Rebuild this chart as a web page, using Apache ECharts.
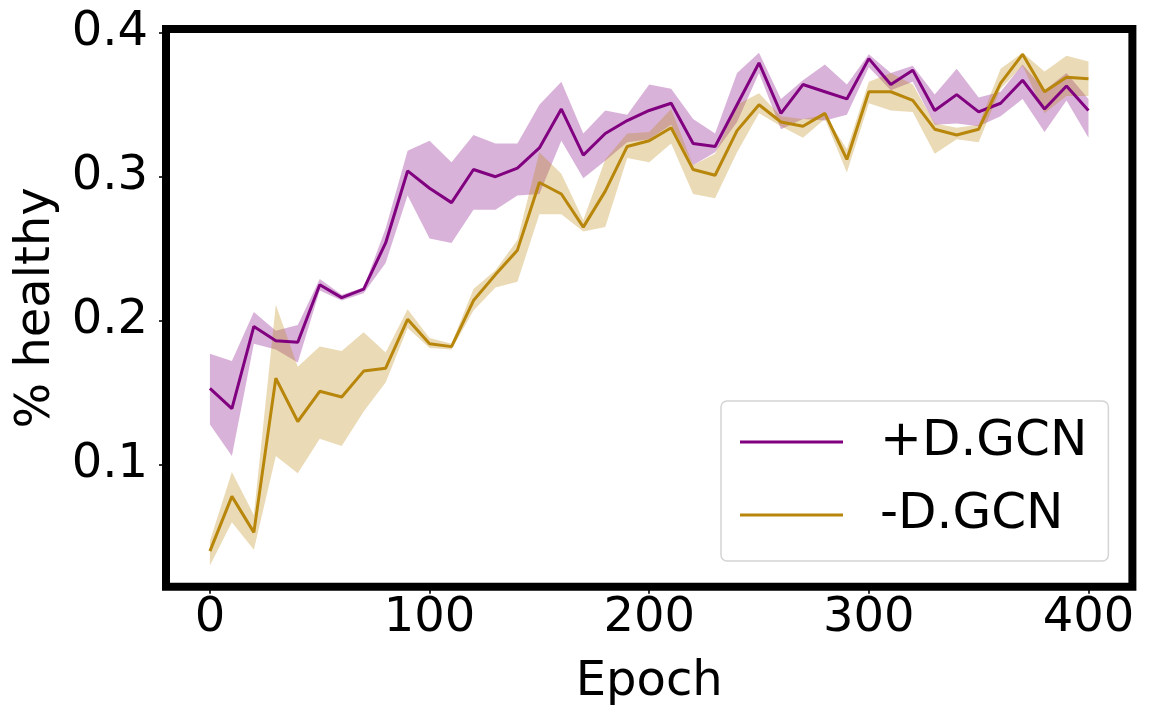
<!DOCTYPE html>
<html>
<head>
<meta charset="utf-8">
<script src="https://cdn.jsdelivr.net/npm/echarts@6/dist/echarts.min.js"></script>
<style>
html,body{margin:0;padding:0;background:#fff;}
#chart{width:1151px;height:721px;}
</style>
</head>
<body>
<div id="chart"></div>
<script>
const epochs = [0,10,20,30,40,50,60,70,80,90,100,110,120,130,140,150,160,170,180,190,200,210,220,230,240,250,260,270,280,290,300,310,320,330,340,350,360,370,380,390,400];
const xTicks = [0,100,200,300,400];
const yTicks = [0.1,0.2,0.3,0.4];

const plusMean  = [0.153,0.139,0.196,0.186,0.185,0.225,0.216,0.222,0.254,0.304,0.292,0.282,0.305,0.300,0.306,0.320,0.347,0.315,0.330,0.339,0.346,0.351,0.323,0.321,0.350,0.379,0.344,0.364,0.359,0.354,0.382,0.364,0.374,0.346,0.357,0.345,0.351,0.367,0.347,0.363,0.346];
const plusUpper = [0.177,0.172,0.206,0.193,0.197,0.229,0.218,0.223,0.264,0.318,0.325,0.310,0.329,0.323,0.323,0.350,0.366,0.330,0.346,0.343,0.364,0.361,0.340,0.330,0.372,0.386,0.354,0.367,0.378,0.364,0.385,0.372,0.377,0.357,0.375,0.355,0.359,0.378,0.360,0.372,0.354];
const plusLower = [0.128,0.106,0.184,0.180,0.171,0.221,0.214,0.219,0.240,0.287,0.257,0.254,0.277,0.277,0.287,0.288,0.325,0.299,0.311,0.324,0.326,0.336,0.308,0.317,0.338,0.372,0.333,0.340,0.339,0.343,0.376,0.360,0.366,0.336,0.337,0.335,0.342,0.354,0.331,0.353,0.327];

const minusMean  = [0.040,0.078,0.053,0.160,0.130,0.151,0.147,0.165,0.167,0.201,0.184,0.182,0.214,0.232,0.249,0.296,0.288,0.265,0.290,0.321,0.325,0.334,0.305,0.301,0.332,0.350,0.338,0.335,0.344,0.312,0.359,0.359,0.353,0.333,0.329,0.333,0.365,0.385,0.359,0.369,0.368];
const minusUpper = [0.047,0.095,0.065,0.211,0.168,0.182,0.179,0.192,0.178,0.208,0.188,0.184,0.222,0.235,0.256,0.317,0.302,0.270,0.312,0.330,0.331,0.347,0.308,0.316,0.350,0.358,0.342,0.340,0.343,0.319,0.366,0.372,0.364,0.337,0.334,0.336,0.375,0.386,0.373,0.384,0.380];
const minusLower = [0.030,0.060,0.041,0.106,0.094,0.118,0.113,0.137,0.157,0.195,0.181,0.180,0.207,0.223,0.227,0.274,0.274,0.262,0.265,0.313,0.310,0.323,0.288,0.285,0.317,0.344,0.335,0.327,0.340,0.303,0.351,0.346,0.345,0.316,0.326,0.324,0.361,0.377,0.344,0.356,0.356];

const seriesNames = ['+D.GCN', '-D.GCN'];
const PURPLE = '#800080';
const GOLD = '#b8860b';
const FONT = 'DejaVu Sans';

function pairs(ys){ return epochs.map((x,i)=>[x, ys[i]]); }

function band(name, up, lo, fill){
  return {
    name: name, type:'custom', silent:true, z:1,
    data: [[epochs[0], lo[0]]],
    renderItem: function(params, api){
      const pts = [];
      for (let i = 0; i < epochs.length; i++) pts.push(api.coord([epochs[i], up[i]]));
      for (let i = epochs.length - 1; i >= 0; i--) pts.push(api.coord([epochs[i], lo[i]]));
      return {type:'polygon', shape:{points: pts}, style:{fill: fill, stroke:'none'}};
    }
  };
}

const chart = echarts.init(document.getElementById('chart'), null, {renderer:'canvas'});
chart.setOption({
  animation: false,
  backgroundColor: '#fff',
  textStyle: {fontFamily: FONT, color:'#000'},
  grid: {left:166, right:18.6, top:29, bottom:134.3, show:true, borderColor:'#000', borderWidth:8, backgroundColor:'#fff'},
  xAxis: {
    type:'value', min:-20, max:420,
    name:'Epoch', nameLocation:'middle', nameGap:72,
    nameTextStyle:{fontSize:48, color:'#000', fontFamily:FONT},
    axisLine:{show:false, onZero:false},
    splitLine:{show:false},
    axisTick:{show:true, customValues: xTicks, length:7, lineStyle:{color:'#000', width:1.6}},
    axisLabel:{customValues: xTicks, fontSize:48, color:'#000', fontFamily:FONT, margin:8}
  },
  yAxis: {
    type:'value', min:0.01528, max:0.40257,
    name:'% healthy', nameLocation:'middle', nameGap:105, nameRotate:90,
    nameTextStyle:{fontSize:48, color:'#000', fontFamily:FONT},
    axisLine:{show:false, onZero:false},
    splitLine:{show:false},
    axisTick:{show:true, customValues: yTicks, length:7, lineStyle:{color:'#000', width:1.6}},
    axisLabel:{customValues: yTicks, fontSize:48, color:'#000', fontFamily:FONT, margin:18,
      formatter: v => v.toFixed(1)}
  },
  legend: {
    data: seriesNames,
    orient:'vertical', left:721, top:401,
    padding:[16,21,21,19],
    itemGap:23,
    itemWidth:103, itemHeight:3,
    icon:'rect',
    backgroundColor:'rgba(255,255,255,0.8)',
    borderColor:'#d4d4d4', borderWidth:1.5, borderRadius:6,
    textStyle:{fontSize:50, color:'#000', fontFamily:FONT, padding:[0,0,0,32], lineHeight:50}
  },
  series: [
    band('plusBand', plusUpper, plusLower, 'rgba(128,0,128,0.3)'),
    band('minusBand', minusUpper, minusLower, 'rgba(184,134,11,0.3)'),
    {name: seriesNames[0], type:'line', data: pairs(plusMean), symbol:'none', color:PURPLE,
     itemStyle:{color:PURPLE}, lineStyle:{color:PURPLE, width:3}, z:3},
    {name: seriesNames[1], type:'line', data: pairs(minusMean), symbol:'none', color:GOLD,
     itemStyle:{color:GOLD}, lineStyle:{color:GOLD, width:3}, z:3}
  ]
});
</script>
</body>
</html>
